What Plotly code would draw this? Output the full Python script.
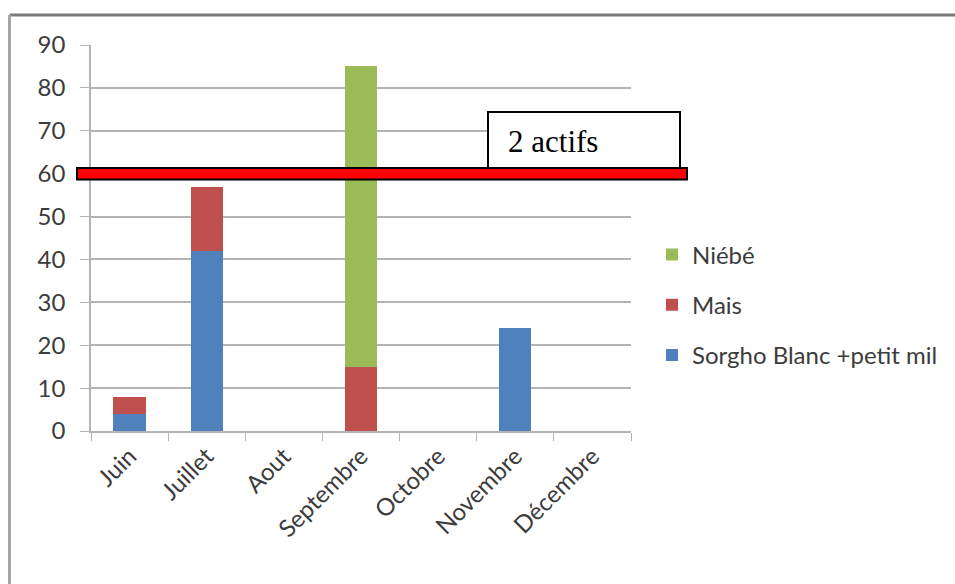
import plotly.graph_objects as go

# Monthly workload per crop (stacked), with the 2-worker capacity line
mois = ["Juin", "Juillet", "Aout", "Septembre", "Octobre", "Novembre", "Décembre"]
sorgho = [4, 42, 0, 0, 0, 24, 0]
mais = [4, 15, 0, 15, 0, 0, 0]
niebe = [0, 0, 0, 70, 0, 0, 0]
seuil = 60
seuil_label = "2 actifs"
y_ticks = [0, 10, 20, 30, 40, 50, 60, 70, 80, 90]

W, H = 955, 584
L, R, T, B = 91, 631, 45, 431  # plot area in pixels


def px(x):
    return (x - L) / (R - L)


def py(y):
    return (B - y) / (B - T)


font_main = "Lato, 'Open Sans', sans-serif"
tick_col = "#3c3c3c"
grid_col = "#b4b4b4"
fsize = 24

fig = go.Figure()
series = [
    ("Sorgho Blanc +petit mil", sorgho, "#4F81BD", 3),
    ("Mais", mais, "#C0504D", 2),
    ("Niébé", niebe, "#9BBB59", 1),
]
for name, vals, col, rank in series:
    fig.add_trace(go.Bar(
        x=mois, y=vals, name=name, legendgroup=name, legendrank=rank,
        marker=dict(color=col, line=dict(width=0)),
    ))

shapes = [
    # outer frame
    dict(type="line", xref="paper", yref="paper", x0=px(9.5), x1=px(960),
         y0=py(15), y1=py(15), line=dict(color="#7a7a7a", width=3)),
    dict(type="line", xref="paper", yref="paper", x0=px(9.5), x1=px(9.5),
         y0=py(15), y1=py(590), line=dict(color="#a6a6a6", width=3)),
    # capacity label box
    dict(type="rect", xref="paper", yref="y", x0=px(488), x1=px(680),
         y0=seuil + 1.3, y1=74.4, fillcolor="white",
         line=dict(color="black", width=2), layer="above"),
    # capacity line
    dict(type="rect", xref="paper", yref="y", x0=px(77), x1=px(687),
         y0=seuil - 1.35, y1=seuil + 1.35, fillcolor="#ff0000",
         line=dict(color="black", width=2), layer="above"),
]

fig.update_layout(
    width=W, height=H,
    margin=dict(l=L, r=W - R, t=T, b=H - B, pad=0),
    paper_bgcolor="white", plot_bgcolor="white",
    barmode="stack", bargap=0.58,
    font=dict(family=font_main, size=fsize, color=tick_col),
    showlegend=True,
    legend=dict(
        x=px(652), xanchor="left", y=py(305), yanchor="middle",
        traceorder="grouped", tracegroupgap=16,
        font=dict(family=font_main, size=fsize, color=tick_col),
        bgcolor="rgba(0,0,0,0)",
    ),
    xaxis=dict(
        showline=True, linecolor=grid_col, linewidth=1.5,
        ticks="outside", tickson="boundaries", ticklen=8, tickcolor=grid_col,
        tickangle=-45, showgrid=False, automargin=False,
        tickfont=dict(family=font_main, size=fsize, color=tick_col),
    ),
    yaxis=dict(
        range=[0, 90], tickvals=y_ticks, showline=True, linecolor=grid_col,
        linewidth=1.5, ticks="outside", ticklen=9, tickcolor=grid_col,
        showgrid=True, gridcolor=grid_col, gridwidth=1.5, zeroline=False,
        automargin=False, ticklabelstandoff=10,
        tickfont=dict(family=font_main, size=fsize, color=tick_col),
    ),
    shapes=shapes,
    annotations=[
        dict(text=seuil_label, xref="paper", yref="y", x=px(506), y=67.6,
             xanchor="left", yanchor="middle", showarrow=False,
             font=dict(family="'Liberation Serif', 'Times New Roman', serif",
                       size=31, color="black")),
    ],
)

fig.write_html("out.html")
